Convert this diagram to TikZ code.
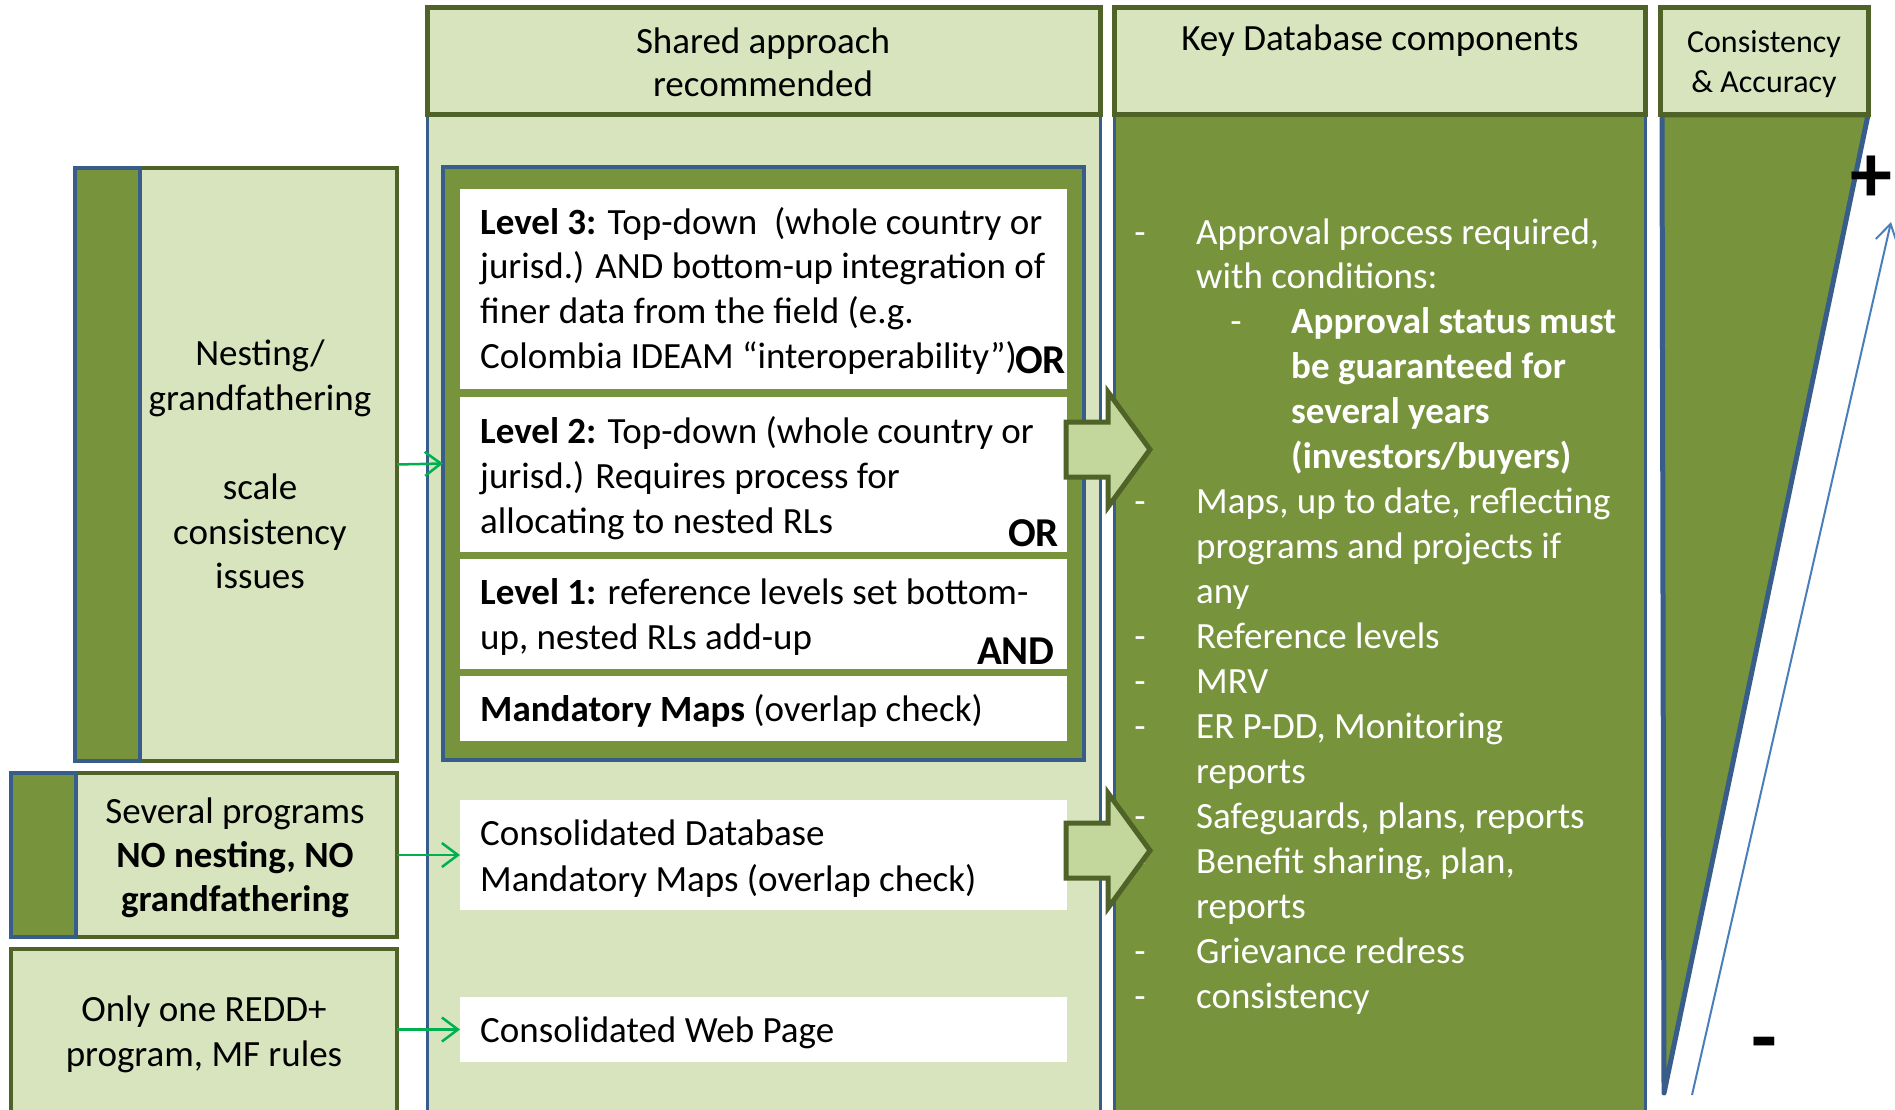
\documentclass[tikz,border=0pt]{standalone}
\usepackage{fontspec}
\setmainfont{Carlito}
\usetikzlibrary{arrows.meta,fit}
\definecolor{lightg}{RGB}{215,228,189}
\definecolor{darkg}{RGB}{119,147,60}
\definecolor{oliveb}{RGB}{79,98,40}
\definecolor{blueb}{RGB}{56,93,138}
\definecolor{arrowf}{RGB}{195,214,155}
\definecolor{greenar}{RGB}{0,176,80}
\definecolor{thinblue}{RGB}{74,126,187}
\newcommand\fsmain{\fontsize{37}{45}\selectfont}
\newcommand\fssmall{\fontsize{32}{40}\selectfont}
\newcommand\fsbig{\fontsize{41}{49}\selectfont\bfseries}
\newcommand\fshuge{\fontsize{84}{90}\selectfont\bfseries}
\tikzset{
 frame/.style={rectangle, inner sep=0pt, outer sep=0pt},
 hdr/.style={frame, fill=lightg, draw=oliveb, line width=5pt},
 colbody/.style={frame, draw=blueb, line width=3pt},
 lbox/.style={frame, fill=lightg, draw=oliveb, line width=4pt},
 strip/.style={frame, fill=darkg, draw=blueb, line width=4pt},
 wbox/.style={frame, fill=white},
 tl/.style={anchor=base west, inner sep=0pt, font=\fsmain},
 tc/.style={anchor=base, inner sep=0pt, font=\fsmain},
 wt/.style={tl, text=white},
 wdash/.style={tc, text=white},
 joiner/.style={anchor=base east, inner sep=0pt, font=\fsbig},
 conn/.style={draw=greenar, line width=2.5pt, -{Straight Barb[length=16pt,width=24pt]}},
 blockar/.style={fill=arrowf, draw=oliveb, line width=5pt, line join=miter},
}
\begin{document}
\begin{tikzpicture}[x=1pt,y=-1pt]
\fill[white] (0,0) rectangle (1895,1110);
\useasboundingbox (0,0) rectangle (1895,1110);

% columns
\node[colbody, fill=lightg, fit={(427,115)(1100,1125)}] (b2) {};
\node[hdr, fit={(427,8)(1100,115)}] (h2) {};
\node[colbody, fill=darkg, fit={(1114,115)(1645,1125)}] (b3) {};
\node[hdr, fit={(1114,8)(1645,115)}] (h3) {};
\draw[fill=darkg, draw=blueb, line width=5pt, line join=round] (1662,115) -- (1868,115) -- (1664,1093) -- cycle;
\node[hdr, fit={(1660,8)(1868,115)}] (h4) {};

% left boxes
\node[lbox, fit={(75,168)(397,761)}] (nest) {};
\node[strip, fit={(75,168)(140,761)}] (nests) {};
\node[lbox, fit={(11,773)(397,937)}] (sev) {};
\node[strip, fit={(11,773)(76,937)}] (sevs) {};
\node[lbox, fit={(11,949)(397,1125)}] (one) {};

% inner container and white boxes
\node[frame, fill=darkg, draw=blueb, line width=4pt, fit={(443,167)(1084,760)}] (inner) {};
\node[wbox, fit={(460,189)(1067,389)}] (lvl3) {};
\node[wbox, fit={(460,397)(1067,552)}] (lvl2) {};
\node[wbox, fit={(460,559)(1067,669)}] (lvl1) {};
\node[wbox, fit={(460,676)(1067,741)}] (maps) {};
\node[wbox, fit={(460,800)(1067,910)}] (cdb) {};
\node[wbox, fit={(460,997)(1067,1062)}] (web) {};

% header texts
\node[tc] (t2a) at (763,54) {Shared approach};
\node[tc] (t2b) at (763,97) {recommended};
\node[tc] (t3) at (1380,51) {Key Database components};
\node[tc, font=\fssmall] (t4a) at (1764,53) {Consistency};
\node[tc, font=\fssmall] (t4b) at (1764,93) {\& Accuracy};

% left texts
\node[tc] (n1) at (260,365) {Nesting/};
\node[tc] (n2) at (260,410) {grandfathering};
\node[tc] (n3) at (260,499) {scale};
\node[tc] (n4) at (260,544) {consistency};
\node[tc] (n5) at (260,588) {issues};
\node[tc] (s1) at (235,823) {Several programs};
\node[tc] (s2) at (235,867) {\textbf{NO nesting, NO}};
\node[tc] (s3) at (235,911) {\textbf{grandfathering}};
\node[tc] (o1) at (204,1021) {Only one REDD+};
\node[tc] (o2) at (204,1066) {program, MF rules};

% level texts
\node[tl] (a1) at (480,234) {\textbf{Level 3:} Top-down\ \ (whole country or};
\node[tl] (a2) at (480,278) {jurisd.) AND bottom-up integration of};
\node[tl] (a3) at (480,323) {finer data from the field (e.g.};
\node[tl] (a4) at (480,368) {Colombia IDEAM “interoperability”)};
\node[joiner, fill=white, inner xsep=1pt] (or1) at (1067,373) {OR};
\node[tl] (b1) at (480,443) {\textbf{Level 2:} Top-down (whole country or};
\node[tl] (bb2) at (480,488) {jurisd.) Requires process for};
\node[tl] (bb3) at (480,533) {allocating to nested RLs};
\node[joiner] (or2) at (1059,546) {OR};
\node[tl] (c1) at (480,604) {\textbf{Level 1:} reference levels set bottom-};
\node[tl] (c2) at (480,649) {up, nested RLs add-up};
\node[joiner] (and1) at (1055,664) {AND};
\node[tl] (m1) at (480,721) {\textbf{Mandatory Maps} (overlap check)};
\node[tl] (d1) at (480,845) {Consolidated Database};
\node[tl] (d2) at (480,891) {Mandatory Maps (overlap check)};
\node[tl] (w1) at (480,1042) {Consolidated Web Page};

% column 3 texts
\node[wdash] (k0d) at (1140,244) {-};
\node[wt] (k0) at (1196,244) {Approval process required,};
\node[wt] (k1) at (1196,288.95) {with conditions:};
\node[wdash] (k2d) at (1236,333.9) {-};
\node[wt] (k2) at (1291,333.9) {\textbf{Approval status must}};
\node[wt] (k3) at (1291,378.85) {\textbf{be guaranteed for}};
\node[wt] (k4) at (1291,423.8) {\textbf{several years}};
\node[wt] (k5) at (1291,468.75) {\textbf{(investors/buyers)}};
\node[wdash] (k6d) at (1140,513.7) {-};
\node[wt] (k6) at (1196,513.7) {Maps, up to date, reflecting};
\node[wt] (k7) at (1196,558.65) {programs and projects if};
\node[wt] (k8) at (1196,603.6) {any};
\node[wdash] (k9d) at (1140,648.55) {-};
\node[wt] (k9) at (1196,648.55) {Reference levels};
\node[wdash] (k10d) at (1140,693.5) {-};
\node[wt] (k10) at (1196,693.5) {MRV};
\node[wdash] (k11d) at (1140,738.45) {-};
\node[wt] (k11) at (1196,738.45) {ER P-DD, Monitoring};
\node[wt] (k12) at (1196,783.4) {reports};
\node[wdash] (k13d) at (1140,828.35) {-};
\node[wt] (k13) at (1196,828.35) {Safeguards, plans, reports};
\node[wdash] (k14d) at (1140,873.3) {-};
\node[wt] (k14) at (1196,873.3) {Benefit sharing, plan,};
\node[wt] (k15) at (1196,918.25) {reports};
\node[wdash] (k16d) at (1140,963.2) {-};
\node[wt] (k16) at (1196,963.2) {Grievance redress};
\node[wdash] (k17d) at (1140,1008.15) {-};
\node[wt] (k17) at (1196,1008.15) {consistency};

% block arrows
\draw[blockar] (1066,422) -- (1108,422) -- (1108,392) -- (1150,449.5) -- (1108,507) -- (1108,477) -- (1066,477) -- cycle;
\draw[blockar] (1066,823) -- (1108,823) -- (1108,793) -- (1150,850.5) -- (1108,908) -- (1108,878) -- (1066,878) -- cycle;

% connectors
\draw[conn] (nest.east) -- (inner.west);
\draw[conn] (sev.east) -- (cdb.west);
\draw[conn] (one.east |- web.west) -- (web.west);

% consistency scale
\coordinate (lo) at (1692,1095);
\coordinate (hi) at (1891,222);
\draw[thinblue, line width=2pt, -{Straight Barb[length=18pt,width=22pt]}] (lo) -- (hi);
\node[inner sep=0pt, font=\fshuge] (plus) at (1871,179) {+};
\node[anchor=base, inner sep=0pt, font=\fshuge] (minus) at (1764,1065) {-};
\end{tikzpicture}
\end{document}
